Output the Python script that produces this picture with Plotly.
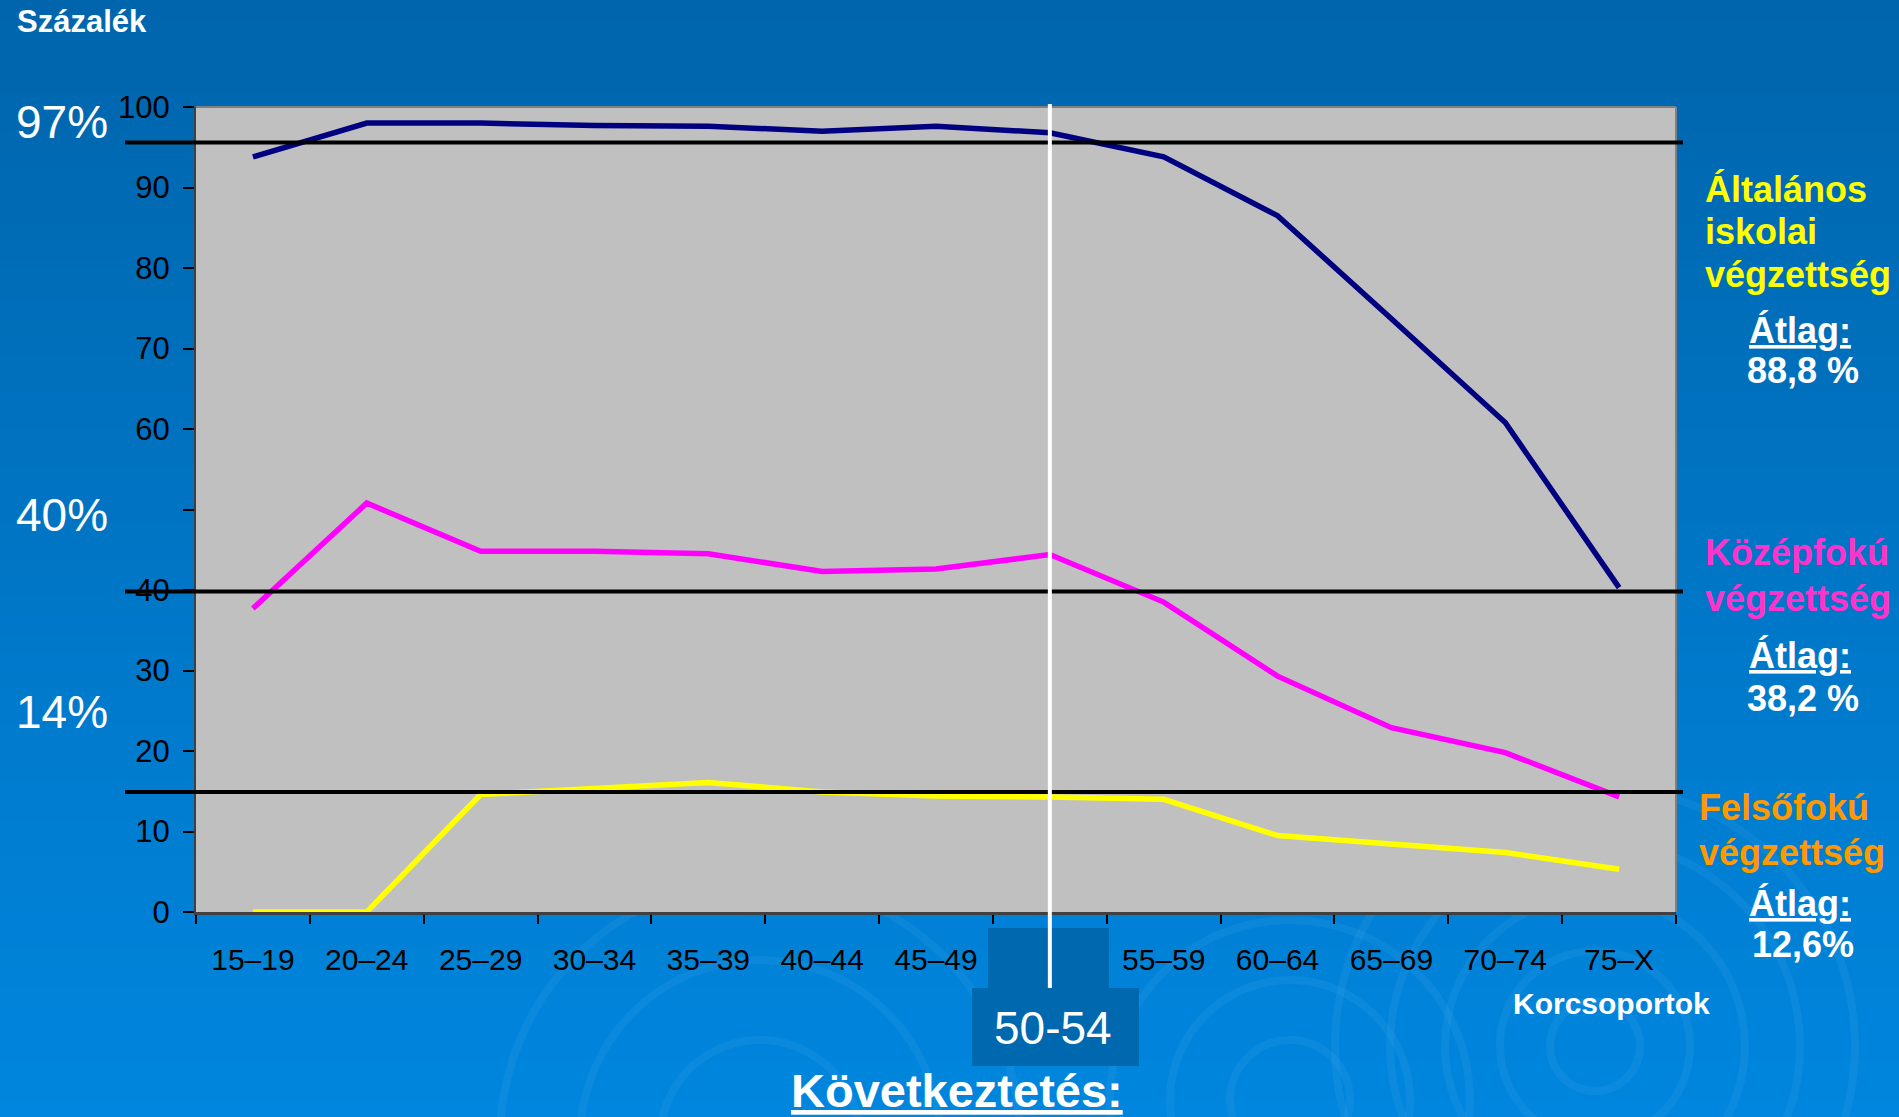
import plotly.graph_objects as go

# ---------------- data ----------------
age_groups = ["15–19", "20–24", "25–29", "30–34", "35–39", "40–44", "45–49",
              "50–54", "55–59", "60–64", "65–69", "70–74", "75–X"]
tick_labels = ["15–19", "20–24", "25–29", "30–34", "35–39", "40–44", "45–49",
               "", "55–59", "60–64", "65–69", "70–74", "75–X"]
altalanos = [93.8, 98.0, 98.0, 97.7, 97.6, 97.0, 97.6, 96.8, 93.8, 86.5, 73.7, 60.8, 40.3]
kozepfoku = [37.7, 50.8, 44.8, 44.8, 44.5, 42.3, 42.6, 44.4, 38.5, 29.3, 22.9, 19.8, 14.3]
felsofoku = [0.0, 0.0, 14.6, 15.3, 16.1, 14.9, 14.4, 14.3, 14.0, 9.5, 8.4, 7.4, 5.3]
ref_levels = [95.6, 39.8, 14.9]
ref_labels = ["97%", "40%", "14%"]
y_tickvals = [0, 10, 20, 30, 40, 50, 60, 70, 80, 90, 100]
y_ticktext = ["0", "10", "20", "30", "40", "", "60", "70", "80", "90", "100"]
highlight_group = "50–54"
highlight_label = "50-54"
group_names = [["Általános", "iskolai", "végzettség"],
               ["Középfokú", "végzettség"],
               ["Felsőfokú", "végzettség"]]
group_avgs = ["88,8 %", "38,2 %", "12,6%"]

# ---------------- layout geometry ----------------
W, H = 1899, 1117
L, R, T, B = 196, 223, 107, 205
PW, PH = W - L - R, H - T - B
FONT = "Liberation Sans, Arial, sans-serif"


def px(x):
    return (x - L) / PW


def py(y):
    return (H - B - y) / PH


shapes = []
# background gradient
top_c = (0x00, 0x65, 0xAC)
bot_c = (0x00, 0x86, 0xDE)
n = 60
for i in range(n):
    t = i / (n - 1)
    c = tuple(int(round(top_c[k] + (bot_c[k] - top_c[k]) * t)) for k in range(3))
    y0 = i * H / n
    y1 = (i + 1) * H / n + 1
    shapes.append(dict(type="rect", xref="paper", yref="paper", layer="below",
                       x0=px(-2), x1=px(W + 2), y0=py(y1), y1=py(y0),
                       fillcolor="rgb(%d,%d,%d)" % c, line=dict(width=0)))
# decorative swirls (subtle)
for (cx, cy, radii) in [(1595, 1046, [45, 95, 150, 205, 260]),
                        (1290, 1100, [60, 120, 180]),
                        (760, 1140, [100, 180, 260])]:
    for r in radii:
        shapes.append(dict(type="circle", xref="paper", yref="paper", layer="below",
                           x0=px(cx - r), x1=px(cx + r), y0=py(cy + r), y1=py(cy - r),
                           line=dict(color="rgba(70,165,235,0.16)", width=8),
                           fillcolor="rgba(0,0,0,0)"))
# plot area background
shapes.append(dict(type="rect", xref="paper", yref="paper", layer="below",
                   x0=0, x1=1, y0=0, y1=1, fillcolor="#C0C0C0", line=dict(width=0)))
# top / right border
shapes.append(dict(type="line", xref="paper", yref="paper", x0=0, x1=1, y0=1, y1=1,
                   line=dict(color="#808080", width=2)))
shapes.append(dict(type="line", xref="paper", yref="paper", x0=1, x1=1, y0=0, y1=1,
                   line=dict(color="#808080", width=2)))
# reference lines
for v in ref_levels:
    shapes.append(dict(type="line", xref="paper", yref="y", x0=px(125), x1=px(1683),
                       y0=v, y1=v, line=dict(color="black", width=4)))
# highlight boxes for 50-54
shapes.append(dict(type="rect", xref="paper", yref="paper", layer="above",
                   x0=px(988), x1=px(1109), y0=py(988), y1=py(928),
                   fillcolor="#0068AE", line=dict(width=0)))
shapes.append(dict(type="rect", xref="paper", yref="paper", layer="above",
                   x0=px(972), x1=px(1139), y0=py(1066), y1=py(988),
                   fillcolor="#0068AE", line=dict(width=0)))
# white vertical line at highlighted group
hi = age_groups.index(highlight_group)
shapes.append(dict(type="line", xref="x", yref="paper", x0=hi, x1=hi,
                   y0=py(988), y1=py(104), line=dict(color="white", width=4)))

fig = go.Figure()
for vals, col in [(felsofoku, "#FFFF00"), (kozepfoku, "#FF00FF"), (altalanos, "#000080")]:
    fig.add_trace(go.Scatter(x=age_groups, y=vals, mode="lines",
                             line=dict(color=col, width=5.5), cliponaxis=False,
                             showlegend=False, hoverinfo="skip"))

ann = []


def add_text(text, x, y, size, color="white", bold=False, xanchor="left", under=False):
    f = dict(family=FONT, size=size, color=color)
    if bold:
        f["weight"] = "bold"
    if under:
        f["lineposition"] = "under"
    ann.append(dict(text=text, x=px(x), y=py(y), xref="paper", yref="paper",
                    xanchor=xanchor, yanchor="middle", showarrow=False, font=f))


add_text("Százalék", 15, 22, 31, bold=True)
for lab, yy in zip(ref_labels, [122, 515, 712]):
    add_text(lab, 14, yy, 46)

name_cfg = [("#FFFF00", 1703, [189, 231, 274], 330, 370),
            ("#FF33CC", 1703, [552, 598], 655, 698),
            ("#FF9900", 1697, [807, 852], 903, 945)]
for names, avg, (col, xl, ys, ya, yv) in zip(group_names, group_avgs, name_cfg):
    for nm, yy in zip(names, ys):
        add_text(nm, xl, yy, 36, color=col, bold=True)
    add_text("Átlag:", 1800, ya, 36, bold=True, xanchor="center", under=True)
    add_text(avg, 1803, yv, 36, bold=True, xanchor="center")

add_text("Korcsoportok", 1611, 1003, 30, bold=True, xanchor="center")
add_text(highlight_label, 1053, 1028, 46, xanchor="center")
add_text("Következtetés:", 957, 1090, 47, bold=True, xanchor="center", under=True)

fig.update_layout(
    width=W, height=H,
    margin=dict(l=L, r=R, t=T, b=B, pad=0),
    paper_bgcolor="#0065AC",
    plot_bgcolor="rgba(0,0,0,0)",
    font=dict(family=FONT, color="black"),
    shapes=shapes,
    annotations=ann,
    xaxis=dict(type="category", categoryorder="array", categoryarray=age_groups,
               range=[-0.5, len(age_groups) - 0.5],
               tickmode="array", tickvals=age_groups, ticktext=tick_labels,
               tickson="boundaries", ticks="outside", ticklen=9, tickwidth=1.5,
               tickcolor="black", showgrid=False, zeroline=False,
               showline=True, linecolor="#404040", linewidth=3,
               tickfont=dict(family=FONT, size=30, color="black"),
               ticklabelstandoff=19, fixedrange=True),
    yaxis=dict(range=[0, 100], tickmode="array", tickvals=y_tickvals, ticktext=y_ticktext,
               ticks="outside", ticklen=11, tickwidth=1.5, tickcolor="black",
               showgrid=False, zeroline=False,
               showline=True, linecolor="#404040", linewidth=2,
               tickfont=dict(family=FONT, size=31, color="black"),
               ticklabelstandoff=7, fixedrange=True),
)

fig.write_html("out.html", config={"displayModeBar": False},
               post_script="document.body.style.margin='0';document.body.style.overflow='hidden';")
